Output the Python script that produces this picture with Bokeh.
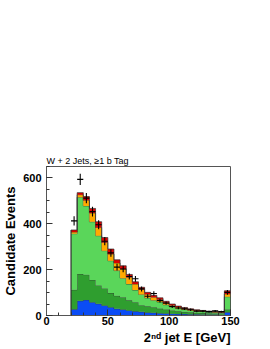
import numpy as np
from bokeh.plotting import figure
from bokeh.models import Range1d, FixedTicker, Title
from bokeh.embed import file_html
from bokeh.resources import INLINE

# ---- data ----
bin_low = [20, 25, 30, 35, 40, 45, 50, 55, 60, 65, 70, 75, 80, 85, 90, 95,
           100, 105, 110, 115, 120, 125, 130, 135, 140, 145]
bin_width = 5

blue = [27, 64, 68, 58, 51, 44, 36, 29, 26, 22, 18, 16, 13, 12, 10, 9, 8, 7, 6, 5, 5, 4, 4, 4, 3, 14]
dark_green = [85, 117, 110, 97, 80, 74, 62, 57, 54, 44, 40, 29, 27, 24, 20, 17, 14, 11, 10, 9, 7, 7, 6, 5, 6, 12]
light_green = [245, 335, 300, 254, 217, 165, 141, 110, 83, 71, 53, 47, 37, 31, 29, 21, 16, 13, 10, 8, 7, 6, 5, 4, 3, 56]
orange = [7, 11, 25, 38, 36, 36, 29, 33, 40, 30, 26, 22, 16, 13, 11, 9, 7, 6, 5, 4, 3, 3, 2, 2, 2, 12]
red = [9, 9, 16, 20, 25, 21, 22, 14, 14, 12, 10, 9, 8, 8, 7, 6, 5, 4, 4, 3, 3, 2, 2, 2, 2, 14]

data = [413, 594, 512, 453, 396, 324, 273, 211, 203, 170, 160, 116, 84, 96, 65, 54,
        39, 33, 29, 25, 19, 19, 17, 20, 17, 101]

layers = [blue, dark_green, light_green, orange, red]
colors = ["#0a4cf5", "#2f9e2f", "#5ad65a", "#ffaa00", "#dd0000"]

x_ticks = [0, 50, 100, 150]
y_ticks = [0, 200, 400, 600]

title_text = "W + 2 Jets, \u22651 b Tag"
y_title = "Candidate Events"
x_title = "2\u207f\u1d48 jet E [GeV]"

font = "Liberation Sans"

# ---- figure ----
p = figure(width=270, height=349, output_backend="svg", toolbar_location=None,
           x_range=Range1d(0, 150), y_range=Range1d(0, 650),
           min_border_left=45, min_border_right=40, min_border_top=166,
           min_border_bottom=34)
p.xgrid.visible = False
p.ygrid.visible = False
p.outline_line_color = "#555555"
p.outline_line_width = 1
p.background_fill_color = "white"
p.border_fill_color = "white"

lo = np.array(bin_low, dtype=float)
hi = lo + bin_width

cum = np.zeros(len(lo))
for vals, col in zip(layers, colors):
    v = np.array(vals, dtype=float)
    bottom = cum.copy()
    top = cum + v
    xs_top = np.column_stack([lo, hi]).ravel()
    ys_top = np.repeat(top, 2)
    xs_bot = xs_top[::-1]
    ys_bot = np.repeat(bottom, 2)[::-1]
    p.patch(np.concatenate([xs_top, xs_bot]), np.concatenate([ys_top, ys_bot]),
            fill_color=col, line_color=None)
    sx = np.concatenate([[lo[0]], xs_top, [hi[-1]]])
    sy = np.concatenate([[bottom[0]], ys_top, [bottom[-1]]])
    p.line(sx, sy, line_color="#303030", line_width=0.8, line_alpha=0.85)
    cum = top

p.line([lo[0], lo[0]], [0, cum[0]], line_color="#303030", line_width=0.8)

# data points with sqrt(N) errors
d = np.array(data, dtype=float)
err = np.sqrt(d)
centers = (lo + hi) / 2
p.segment(x0=lo, x1=hi, y0=d, y1=d, line_color="black", line_width=1.1)
p.segment(x0=centers, x1=centers, y0=d - err, y1=d + err, line_color="black", line_width=1.1)

# ---- axes ----
for ax in (p.xaxis[0], p.yaxis[0]):
    ax.axis_line_color = "#555555"
    ax.major_tick_line_color = "#333333"
    ax.minor_tick_line_color = "#333333"
    ax.major_tick_in = 6
    ax.major_tick_out = 0
    ax.minor_tick_in = 3
    ax.minor_tick_out = 0
    ax.major_label_text_font = font
    ax.major_label_text_font_style = "bold"
    ax.major_label_text_font_size = "11px"
    ax.major_label_text_color = "black"

p.xaxis[0].ticker = FixedTicker(ticks=x_ticks, minor_ticks=list(range(0, 151, 10)))
p.yaxis[0].ticker = FixedTicker(ticks=y_ticks, minor_ticks=list(range(0, 651, 50)))
p.xaxis[0].major_label_standoff = 1
p.yaxis[0].major_label_standoff = 5

ya = p.yaxis[0]
ya.axis_label = y_title
ya.axis_label_text_font = font
ya.axis_label_text_font_style = "bold"
ya.axis_label_text_font_size = "13px"
ya.axis_label_text_color = "black"
ya.axis_label_standoff = 2

# ---- titles ----
p.title.text = title_text
p.title.align = "left"
p.title.text_font = font
p.title.text_font_style = "normal"
p.title.text_font_size = "9px"
p.title.text_color = "black"
p.title.standoff = 2

p.add_layout(Title(text=x_title, align="right", text_font=font,
                   text_font_style="bold", text_font_size="13px",
                   text_color="black", standoff=0), "below")

open("out.html", "w").write(file_html(p, INLINE))
